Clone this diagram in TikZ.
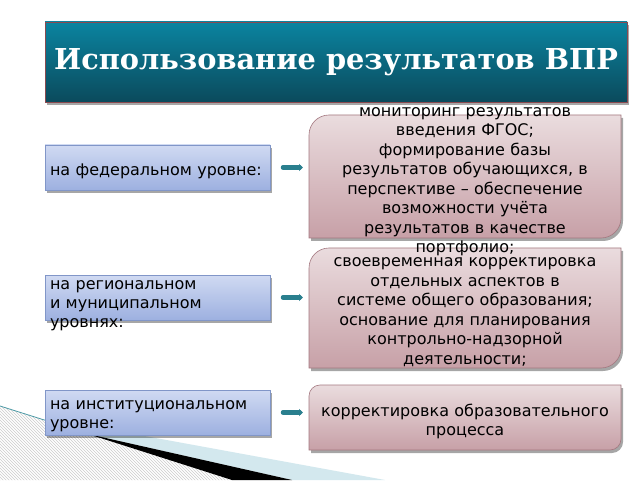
\documentclass[tikz,border=0pt]{standalone}
\usepackage{fontspec}
\setmainfont{DejaVu Sans}
\newfontfamily\titlefont{DejaVu Serif}
\usepackage{xcolor}
\usetikzlibrary{arrows.meta,backgrounds,patterns,positioning,shadows}
\definecolor{bannertop}{HTML}{0B84A0}
\definecolor{bannerbottom}{HTML}{0B4A5C}
\definecolor{bannerline}{HTML}{8A4A50}
\definecolor{lvltop}{HTML}{D0DAF2}
\definecolor{lvlbottom}{HTML}{9DB0E0}
\definecolor{lvlline}{HTML}{8196C8}
\definecolor{usetop}{HTML}{EADCDE}
\definecolor{usebottom}{HTML}{C7A0A7}
\definecolor{useline}{HTML}{A47880}
\definecolor{arrowteal}{HTML}{2A7F8E}
\definecolor{wedgeblue}{HTML}{D3E8EE}
\definecolor{edgeteal}{HTML}{4E9AA6}
\tikzset{%
	softshadow/.style = {drop shadow={shadow xshift=2pt, shadow yshift=-3pt, opacity=0.35, fill=black}},
	banner/.style     = {draw=bannerline, line width=0.6pt, top color=bannertop, bottom color=bannerbottom, minimum width=582pt, minimum height=80pt, text=white, font=\titlefont\bfseries\fontsize{28.8}{32}\selectfont, softshadow},
	lvlbox/.style     = {text width=215pt, inner xsep=5pt, align=left, font=\fontsize{16}{19}\selectfont}, % level
	lvlshape/.style   = {draw=lvlline, line width=0.6pt, top color=lvltop, bottom color=lvlbottom, softshadow},
	usebox/.style     = {text width=300pt, inner xsep=6pt, align=center, font=\fontsize{16}{19.5}\selectfont}, % use of results
	useshape/.style   = {draw=useline, line width=0.6pt, top color=usetop, bottom color=usebottom, softshadow},
	pointer/.style    = {arrowteal, line width=4.5pt, line cap=round, -{Triangle[length=4pt,width=7pt]}, shorten <=13pt, shorten >=6pt},
}
% fixed size frame behind a level text: [offset of the frame] node
\newcommand{\lvlframe}[2][4pt]{%
	\begin{scope}[on background layer]
		\draw[lvlshape] ([shift={(-112.5pt,-22.5pt+#1)}]#2.center) rectangle ([shift={(112.5pt,22.5pt+#1)}]#2.center);
	\end{scope}
	\coordinate (#2-out) at ([shift={(112.5pt,#1)}]#2.center);}
% frame with two rounded corners (top left, bottom right): [offset] node, radius, half height
\newcommand{\diagframe}[4][4pt]{%
	\begin{scope}[on background layer]
		\draw[useshape] ([shift={(-156pt,#4-#3+#1)}]#2.center) arc[start angle=180, end angle=90, radius=#3] -- ([shift={(156pt,#4+#1)}]#2.center) -- ([shift={(156pt,-#4+#3+#1)}]#2.center) arc[start angle=0, end angle=-90, radius=#3] -- ([shift={(-156pt,-#4+#1)}]#2.center) -- cycle;
	\end{scope}
	\coordinate (#2-in) at ([shift={(-156pt,#1)}]#2.center);}

\begin{document}
\begin{tikzpicture}[x=1pt, y=1pt]
	\useasboundingbox (0,0) rectangle (640,480);
	\begin{scope}[on background layer]
		\fill[white] (0,0) rectangle (640,480);
		% corner decoration
		\fill[pattern=north west lines, pattern color=gray!40] (0,74) -- (232,0) -- (0,0) -- cycle;
		\fill[wedgeblue] (88,46) -- (90,54) -- (385,0) -- (292,0) -- cycle;
		\fill[black] (88,46) -- (292,0) -- (232,0) -- cycle;
		\draw[edgeteal, line width=0.8pt] (0,74) -- (95,44);
	\end{scope}
	
	\node[banner] (title) at (336,418) {Использование результатов ВПР};
	
	\node[lvlbox] (fed) at (157.5,308.5) {на федеральном уровне:};
	\lvlframe{fed}
	\node[lvlbox] (reg) at (157.5,174.5) {на региональном\\ и муниципальном\\ уровнях:};
	\lvlframe[8pt]{reg}
	\node[lvlbox] (inst) at (157.5,63.5) {на институциональном\\ уровне:};
	\lvlframe{inst}
	
	\node[usebox] (mon) at (465,298.5) {мониторинг результатов\\ введения ФГОС;\\ формирование базы\\ результатов обучающихся, в\\ перспективе – обеспечение\\ возможности учёта\\ результатов в качестве\\ портфолио;};
	\diagframe[5pt]{mon}{20pt}{61.5pt}
	\node[usebox] (corr) at (465,168) {своевременная корректировка\\ отдельных аспектов в\\ системе общего образования;\\ основание для планирования\\ контрольно-надзорной\\ деятельности;};
	\diagframe{corr}{20pt}{60pt}
	\node[usebox] (proc) at (465,58.5) {корректировка образовательного\\ процесса};
	\diagframe{proc}{11pt}{32.5pt}
	
	\draw[pointer] (fed-out) -- (fed-out -| mon-in);
	\draw[pointer] (reg-out) -- (reg-out -| corr-in);
	\draw[pointer] (inst-out) -- (inst-out -| proc-in);
\end{tikzpicture}
\end{document}
